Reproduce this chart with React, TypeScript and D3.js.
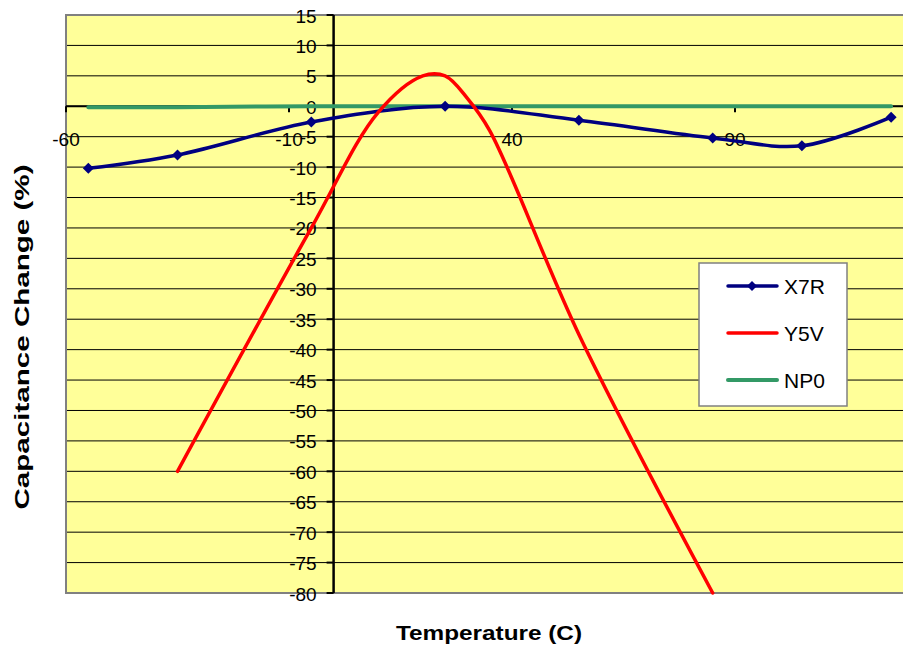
import React from "react";
import * as d3 from "d3";

const W = 903;
const H = 646;

const xTicks = [-60, -10, 40, 90];
const yTicks = d3.range(-80, 16, 5);

const x7rTemp = [-55, -35, -5, 25, 55, 85, 105, 125];
const x7rVal = [-10.2, -8.0, -2.6, 0, -2.3, -5.2, -6.5, -1.8];

const y5vTemp = [-35, -5, 10, 20, 25, 30, 35, 55, 85];
const y5vVal = [-60, -20, -1, 5, 5, 1.3, -4, -37.5, -80];

const np0Temp = [-55, -35, -5, 25, 55, 85, 105, 125];
const np0Val = [-0.15, -0.15, 0, 0, 0, 0, 0, 0];

const seriesNames = ["X7R", "Y5V", "NP0"];
const seriesColors = ["#000080", "#FF0000", "#339966"];

const FONT = "'Liberation Sans', Arial, sans-serif";

export default function App() {
  const plotLeft = 66;
  const plotTop = 15;
  const plotBottom = 593;
  const pxPerUnit = 4.46;
  const x = d3.scaleLinear().domain([-60, 140]).range([plotLeft, plotLeft + 200 * pxPerUnit]);
  const y = d3.scaleLinear().domain([-80, 15]).range([plotBottom, plotTop]);
  const x0 = x(0);
  const y0 = y(0);

  const line = d3
    .line<[number, number]>()
    .x((d) => x(d[0]))
    .y((d) => y(d[1]))
    .curve(d3.curveCatmullRom.alpha(0.5));

  const zip = (a: number[], b: number[]) => a.map((t, i) => [t, b[i]] as [number, number]);
  const x7r = zip(x7rTemp, x7rVal);
  const y5v = zip(y5vTemp, y5vVal);
  const np0 = zip(np0Temp, np0Val);

  const diamond = (cx: number, cy: number, r: number) =>
    `M${cx},${cy - r}L${cx + r},${cy}L${cx},${cy + r}L${cx - r},${cy}Z`;

  const plotRight = x(140);

  const legend = { x: 699, y: 263, w: 148, h: 143 };
  const rowsY = [286, 333, 380];

  return (
    <div style={{ position: "fixed", left: 0, top: 0, width: W, height: H, background: "#fff" }}>
      <svg width={W} height={H} style={{ display: "block" }}>
        <rect x={0} y={0} width={W} height={H} fill="#ffffff" />
        {/* plot area */}
        <rect x={plotLeft} y={plotTop} width={plotRight - plotLeft} height={plotBottom - plotTop} fill="#FFFF99" />
        {/* gridlines */}
        {yTicks
          .filter((v) => v !== -80 && v !== 15)
          .map((v) => (
            <line key={"g" + v} x1={plotLeft} x2={plotRight} y1={y(v)} y2={y(v)} stroke="#000" strokeWidth={1} />
          ))}
        {/* border */}
        <rect
          x={plotLeft}
          y={plotTop}
          width={plotRight - plotLeft}
          height={plotBottom - plotTop}
          fill="none"
          stroke="#808080"
          strokeWidth={2}
        />
        {/* x axis */}
        <line x1={plotLeft} x2={plotRight} y1={y0} y2={y0} stroke="#000" strokeWidth={2} />
        {xTicks.map((v) => (
          <g key={"xt" + v}>
            <line x1={x(v)} x2={x(v)} y1={y0} y2={y0 + 6} stroke="#000" strokeWidth={2} />
            <text
              x={x(v)}
              y={y0 + 40}
              textAnchor="middle"
              fontFamily={FONT}
              fontSize={19}
              fill="#000"
            >
              {v}
            </text>
          </g>
        ))}
        {/* y axis */}
        <line x1={x0} x2={x0} y1={plotTop} y2={plotBottom} stroke="#000" strokeWidth={2.5} />
        {yTicks.map((v) => (
          <g key={"yt" + v}>
            <line x1={x0 - 7} x2={x0} y1={y(v)} y2={y(v)} stroke="#000" strokeWidth={2} />
            <text
              x={x0 - 17}
              y={y(v) + 7.5}
              textAnchor="end"
              fontFamily={FONT}
              fontSize={19}
              fill="#000"
            >
              {v}
            </text>
          </g>
        ))}
        {/* series */}
        <path d={line(np0) || ""} fill="none" stroke={seriesColors[2]} strokeWidth={4} strokeLinecap="round" />
        <path d={line(x7r) || ""} fill="none" stroke={seriesColors[0]} strokeWidth={3.5} strokeLinecap="round" />
        <path d={line(y5v) || ""} fill="none" stroke={seriesColors[1]} strokeWidth={3.5} strokeLinecap="round" />
        {x7r.map((d, i) => (
          <path key={"m" + i} d={diamond(x(d[0]), y(d[1]), 5.5)} fill={seriesColors[0]} />
        ))}
        {/* legend */}
        <rect x={legend.x} y={legend.y} width={legend.w} height={legend.h} fill="#fff" stroke="#808080" strokeWidth={1.5} />
        {seriesNames.map((n, i) => (
          <g key={"l" + n}>
            <line
              x1={728}
              x2={777}
              y1={rowsY[i]}
              y2={rowsY[i]}
              stroke={seriesColors[i]}
              strokeWidth={i === 2 ? 4 : 3.5}
              strokeLinecap="round"
            />
            {i === 0 && <path d={diamond(752, rowsY[i], 5)} fill={seriesColors[0]} />}
            <text x={784} y={rowsY[i] + 7.5} fontFamily={FONT} fontSize={21} fill="#000">
              {n}
            </text>
          </g>
        ))}
        {/* titles */}
        <text
          x={489}
          y={640}
          textAnchor="middle"
          fontFamily={FONT}
          fontSize={21}
          fontWeight="bold"
          textLength={186}
          lengthAdjust="spacingAndGlyphs"
          fill="#000"
        >
          Temperature (C)
        </text>
        <text
          transform={`translate(29,337) rotate(-90)`}
          x={0}
          y={0}
          textAnchor="middle"
          fontFamily={FONT}
          fontSize={21}
          fontWeight="bold"
          textLength={345}
          lengthAdjust="spacingAndGlyphs"
          fill="#000"
        >
          Capacitance Change (%)
        </text>
      </svg>
    </div>
  );
}
